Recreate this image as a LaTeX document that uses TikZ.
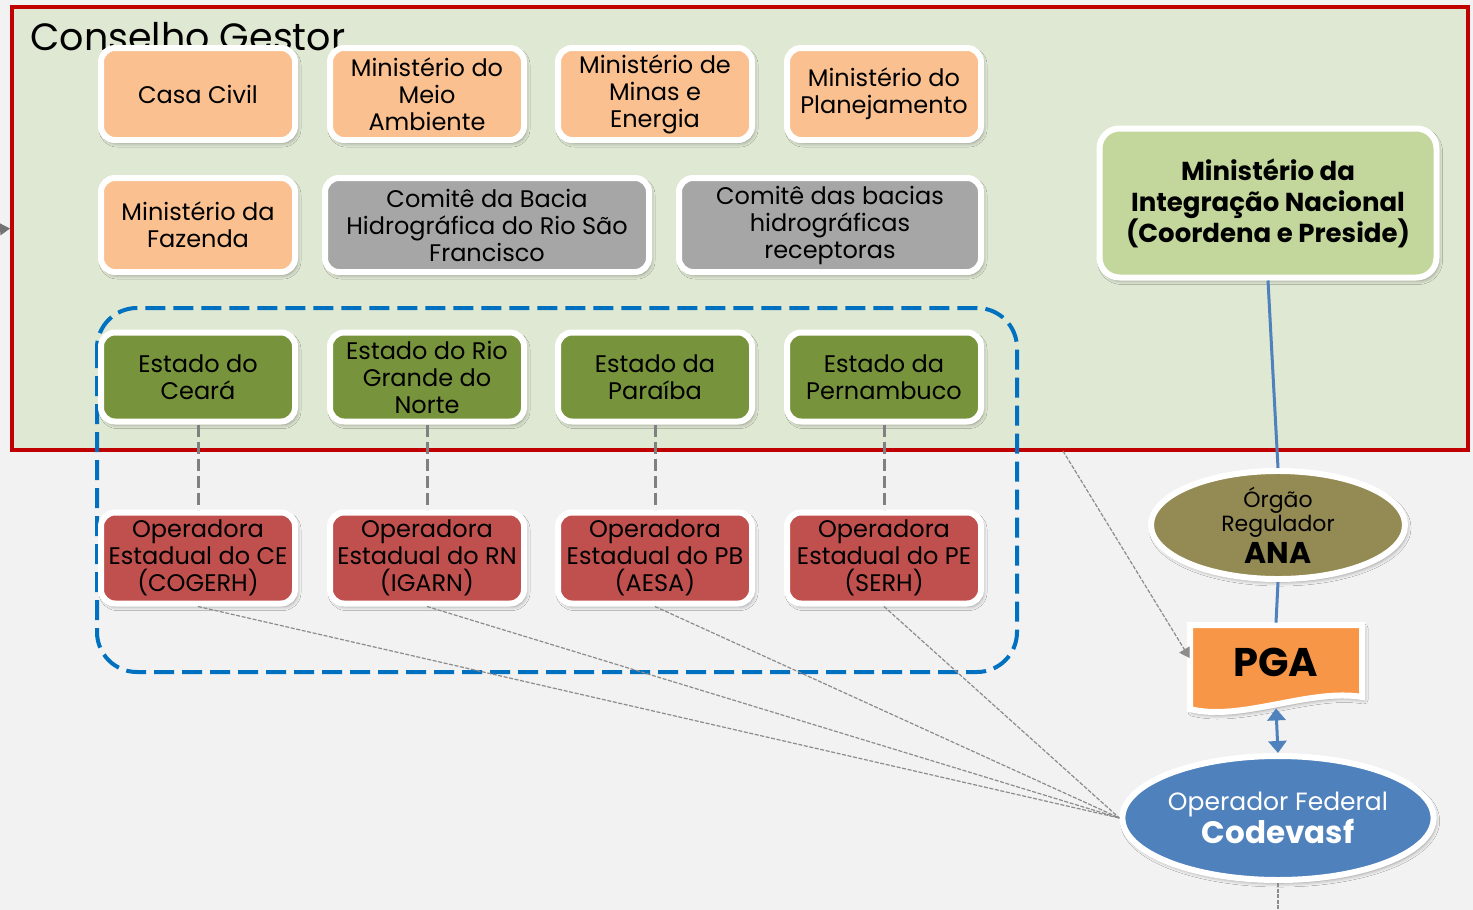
\documentclass[tikz,border=0pt]{standalone}
\usepackage{fontspec}
\setmainfont{Poppins}
\usepackage{tikz}
\usetikzlibrary{arrows.meta}
\usetikzlibrary{shapes.geometric}
\usetikzlibrary{shadows.blur}
\usetikzlibrary{calc}
\definecolor{fundo}{HTML}{F2F2F2}
\definecolor{painel}{HTML}{DFE8D3}
\definecolor{vermelho}{HTML}{C00000}
\definecolor{laranja}{HTML}{FAC090}
\definecolor{cinzacx}{HTML}{A6A6A6}
\definecolor{verdeest}{HTML}{77933C}
\definecolor{vermop}{HTML}{C0504D}
\definecolor{verdemi}{HTML}{C3D69B}
\definecolor{oliva}{HTML}{948A54}
\definecolor{laranjapga}{HTML}{F79646}
\definecolor{azulop}{HTML}{4F81BD}
\definecolor{azultr}{HTML}{0070C0}
\tikzset{
    sombra/.style={blur shadow={shadow xshift=1pt, shadow yshift=-1.5pt,
        shadow blur radius=2pt, shadow opacity=40}},
    caixa/.style={draw=white, line width=3pt, rounded corners=7pt, align=center,
        inner sep=1pt, sombra, font=\fontsize{12}{13.5}\selectfont},
    ministerio/.style={caixa, fill=laranja, minimum width=97pt, minimum height=46pt},
    comite/.style={caixa, fill=cinzacx, minimum height=47pt},
    estado/.style={caixa, fill=verdeest, minimum width=97pt, minimum height=44.5pt},
    operadora/.style={caixa, fill=vermop, minimum width=97pt, minimum height=45.5pt},
    coordena/.style={caixa, fill=verdemi, minimum width=168.5pt, minimum height=74.5pt,
        rounded corners=10pt, font=\bfseries\fontsize{13}{15.5}\selectfont},
    orgao/.style={ellipse, draw=white, line width=3pt, inner sep=0pt, sombra, align=center},
    conselhobox/.style={draw=vermelho, line width=2pt, fill=painel,
        minimum width=728pt, minimum height=221.5pt},
    ligacao/.style={draw=azulop, line width=1.5pt},
    tracoestado/.style={draw=black!50, line width=1.5pt, dash pattern=on 6pt off 2.5pt},
    linhacinza/.style={draw=black!45, line width=0.6pt, dash pattern=on 2pt off 0.8pt},
    grupoestados/.style={draw=azultr, line width=2pt, dash pattern=on 10pt off 4pt,
        rounded corners=20pt},
}
\begin{document}
\begin{tikzpicture}[x=0.5pt, y=-0.5pt]
	\useasboundingbox (0,0) rectangle (1473,910);
	\fill[fundo] (0,0) rectangle (1473,910);
%
	\node[conselhobox] (conselho) at (740,228.5) {};
	\node[anchor=west, inner sep=0pt, font=\fontsize{19}{22}\selectfont] (titulo) at (30,37) {Conselho Gestor};
	\draw[grupoestados] (97,308) rectangle (1017,672);
%
	\node[ministerio] (casacivil) at (198,94) {Casa Civil};
	\node[ministerio] (mma) at (427,94) {Ministério do\\Meio\\Ambiente};
	\node[ministerio] (mme) at (655,94) {Ministério de\\Minas e\\Energia};
	\node[ministerio] (mpog) at (884,94) {Ministério do\\Planejamento};
	\node[ministerio, minimum height=47pt] (mf) at (198,225) {Ministério da\\Fazenda};
	\node[comite, minimum width=162pt] (cbhsf) at (487,225) {Comitê da Bacia\\Hidrográfica do Rio São\\Francisco};
	\node[comite, minimum width=151pt] (cbhr) at (830,225) {Comitê das bacias\\hidrográficas\\receptoras};
	\node[coordena] (mi) at (1268,203) {Ministério da\\Integração Nacional\\(Coordena e Preside)};
%
	\node[estado] (ce) at (198,377) {Estado do\\Ceará};
	\node[estado] (rn) at (427,377) {Estado do Rio\\Grande do\\Norte};
	\node[estado] (pb) at (655,377) {Estado da\\Paraíba};
	\node[estado] (pe) at (884,377) {Estado da\\Pernambuco};
	\node[operadora] (cogerh) at (198,558) {Operadora\\Estadual do CE\\(COGERH)};
	\node[operadora] (igarn) at (427,558) {Operadora\\Estadual do RN\\(IGARN)};
	\node[operadora] (aesa) at (655,558) {Operadora\\Estadual do PB\\(AESA)};
	\node[operadora] (serh) at (884,558) {Operadora\\Estadual do PE\\(SERH)};
	\foreach \e/\o in {ce/cogerh, rn/igarn, pb/aesa, pe/serh}
		\draw[tracoestado] (\e.south) -- (\o.north);
%
	\node[orgao, fill=oliva, minimum width=127pt, minimum height=52pt] (ana) at (1278,525)
		{\fontsize{11}{12.5}\selectfont Órgão\\\fontsize{11}{12.5}\selectfont Regulador\\[1.5pt]\bfseries\fontsize{15}{16}\selectfont ANA};
	\node[orgao, fill=azulop, text=white, minimum width=152pt, minimum height=62pt] (codevasf) at (1278,818)
		{\fontsize{12.5}{15}\selectfont Operador Federal\\\bfseries\fontsize{15.5}{17}\selectfont Codevasf};
	% documento PGA
	\draw[draw=white, line width=3pt, fill=laranjapga, sombra] (1190,625) -- (1362,625) -- (1362,697)
		.. controls (1310,688) and (1240,722) .. (1190,709) -- cycle;
	\node[minimum width=86pt, minimum height=42pt, font=\bfseries\fontsize{20}{22}\selectfont] (pga) at (1276,662) {PGA};
%
	\draw[ligacao] (mi.south) -- (ana.north);
	\draw[ligacao] (ana.south) -- ([yshift=-1.5pt]pga.north);
	\draw[ligacao, {Triangle[width=9pt,length=6pt]}-{Triangle[width=9pt,length=6pt]}] ([yshift=-2pt]pga.south) -- (codevasf.north);
	\coordinate (fim) at (1278,910);
	\draw[linhacinza] (codevasf.south) -- (fim);
	\foreach \o in {cogerh, igarn, aesa, serh}
		\draw[linhacinza] (\o.south) -- (codevasf.west);
	\coordinate (cgsaida) at (1063,451);
	\draw[linhacinza, -{Triangle[width=6pt,length=5pt]}] (cgsaida) -- ([yshift=2pt]pga.west);
	\coordinate (entrada) at (-10,230);
	\draw[draw=black!55, line width=0.6pt, -{Triangle[width=6pt,length=5pt]}] (entrada) -- (conselho.west);
\end{tikzpicture}
\end{document}
